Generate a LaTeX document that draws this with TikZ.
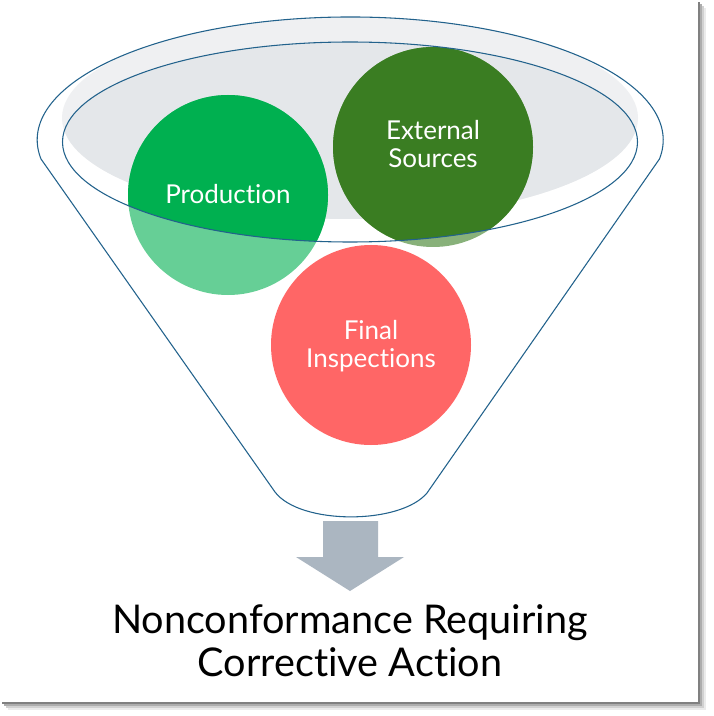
\documentclass[tikz,border=0pt]{standalone}
\usepackage{fontspec}
\setmainfont{Lato}[Ligatures=NoCommon]
\usepackage{tikz}
\usetikzlibrary{positioning}

\definecolor{rand}{RGB}{34,98,140}
\definecolor{grauhell}{RGB}{239,240,242}
\definecolor{graudunkel}{RGB}{228,231,234}
\definecolor{gruen}{RGB}{0,176,80}
\definecolor{dunkelgruen}{RGB}{58,125,34}
\definecolor{rot}{RGB}{255,102,102}
\definecolor{pfeilgrau}{RGB}{171,182,193}

\tikzset{
  kreis/.style={circle, minimum size=150pt, inner sep=0pt, draw=none},
  kreistext/.style={text=white, align=center, font=\fontsize{19.5}{21}\selectfont},
  trichter/.style={draw=rand, line width=0.8pt},
}

\begin{document}
\begin{tikzpicture}[x=0.75pt, y=-0.75pt]
    \useasboundingbox (0,0) rectangle (713,716);

    % Schatten und weisses Blatt
    \foreach \d/\c in {8/8,6/18,4/32,2/50}
        \fill[black!\c] (\d,\d) rectangle (698+\d,702+\d);
    \fill[white] (0,0) rectangle (698,702);

    % Mittelpunkte der Ellipsen
    \coordinate (mitte) at (350,142);
    \coordinate (grau) at (350,118);

    % Graue Flaeche im Trichter
    \fill[grauhell] (grau) ellipse [x radius=288, y radius=101];
    \begin{scope}
        \clip (mitte) ellipse [x radius=287.5, y radius=100];
        \fill[graudunkel] (grau) ellipse [x radius=288, y radius=101];
    \end{scope}

    % Kreise (ausserhalb der Oeffnung blasser)
    \node[kreis, fill=gruen, fill opacity=0.6] (prod) at (228,195) {};
    \node[kreis, fill=dunkelgruen, fill opacity=0.6] (extern) at (433,147) {};
    \node[kreis, fill=rot] (pruef) at (371,345) {};
    \begin{scope}
        \clip (mitte) ellipse [x radius=287.5, y radius=100];
        \fill[gruen] (prod) circle [radius=100];
        \fill[dunkelgruen] (extern) circle [radius=100];
    \end{scope}

    % Beschriftung der Kreise
    \node[kreistext] (prodtext) at (prod.center) [yshift=1pt] {Production};
    \node[kreistext] (externtext) at (extern.center) [yshift=2pt] {External\\Sources};
    \node[kreistext] (prueftext) at (pruef.center) [yshift=-0.5pt] {Final\\Inspections};

    % Innere Ellipse
    \draw[trichter] (mitte) ellipse [x radius=287.5, y radius=100];

    % Trichter
    \coordinate (lo) at (41,159);
    \coordinate (ru) at (427,493);
    \coordinate (lu) at (275,492);
    \draw[trichter] (lo) arc [start angle=171.1, end angle=368.9, x radius=313, y radius=123]
        -- (ru) .. controls (400,525) and (300,525) .. (lu) -- cycle;

    % Pfeil nach unten
    \fill[pfeilgrau] (323,521) -- (378,521) -- (378,557) -- (404,557) -- (350,591)
        -- (296,557) -- (323,557) -- cycle;

    % Ergebnis
    \node[font=\fontsize{29.7}{32.25}\selectfont, align=center] (ergebnis) at (350,641)
        {Nonconformance Requiring\\Corrective Action};
\end{tikzpicture}
\end{document}
